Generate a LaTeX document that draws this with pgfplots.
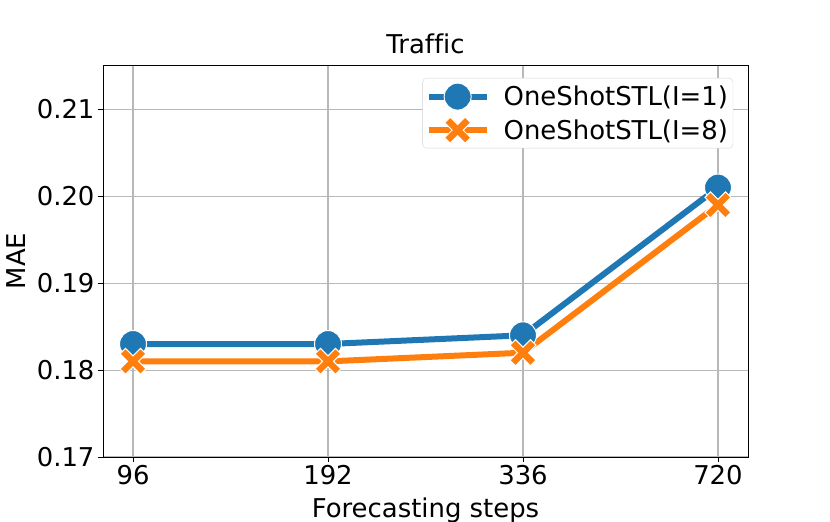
\documentclass[border=0pt]{standalone}
\usepackage{fontspec}
\setmainfont{DejaVu Sans}[Ligatures=NoCommon]
\usepackage{pgfplots}
\pgfplotsset{compat=1.18}
\definecolor{tblue}{HTML}{1F77B4}
\definecolor{torange}{HTML}{FF7F0E}
\definecolor{gridc}{HTML}{B8B8B8}
\newcommand{\bigf}{\fontsize{26}{31}\selectfont}
% filled "X" marker with thick arms
\pgfdeclareplotmark{fatx}{%
  \pgftransformrotate{45}%
  \pgfpathmoveto{\pgfpoint{0.27\pgfplotmarksize}{\pgfplotmarksize}}%
  \pgfpathlineto{\pgfpoint{0.27\pgfplotmarksize}{0.27\pgfplotmarksize}}%
  \pgfpathlineto{\pgfpoint{\pgfplotmarksize}{0.27\pgfplotmarksize}}%
  \pgfpathlineto{\pgfpoint{\pgfplotmarksize}{-0.27\pgfplotmarksize}}%
  \pgfpathlineto{\pgfpoint{0.27\pgfplotmarksize}{-0.27\pgfplotmarksize}}%
  \pgfpathlineto{\pgfpoint{0.27\pgfplotmarksize}{-\pgfplotmarksize}}%
  \pgfpathlineto{\pgfpoint{-0.27\pgfplotmarksize}{-\pgfplotmarksize}}%
  \pgfpathlineto{\pgfpoint{-0.27\pgfplotmarksize}{-0.27\pgfplotmarksize}}%
  \pgfpathlineto{\pgfpoint{-\pgfplotmarksize}{-0.27\pgfplotmarksize}}%
  \pgfpathlineto{\pgfpoint{-\pgfplotmarksize}{0.27\pgfplotmarksize}}%
  \pgfpathlineto{\pgfpoint{-0.27\pgfplotmarksize}{0.27\pgfplotmarksize}}%
  \pgfpathlineto{\pgfpoint{-0.27\pgfplotmarksize}{\pgfplotmarksize}}%
  \pgfpathclose
  \pgfusepathqfillstroke}
\begin{document}
\begin{tikzpicture}
\useasboundingbox (-103bp,-65bp) rectangle (727bp,457bp);
\begin{axis}[
  at={(0,0)}, anchor=south west,
  scale only axis, width=645bp, height=392bp,
  /pgf/number format/assume math mode=true,
  tick label style={font=\bigf},
  label style={font=\bigf},
  title style={font=\bigf},
  xmin=-0.154, xmax=3.154,
  ymin=0.17, ymax=0.2151,
  xtick={0,1,2,3}, xticklabels={96,192,336,720},
  ytick={0.17,0.18,0.19,0.20,0.21},
  yticklabel style={/pgf/number format/.cd,fixed,fixed zerofill,precision=2},
  scaled y ticks=false,
  tick align=outside, tick pos=left,
  major tick length=5bp,
  major tick style={black,line width=0.8bp},
  axis line style={black,line width=0.8bp},
  grid=major, grid style={gridc,line width=1.1bp},
  title={Traffic},
  title style={at={(axis description cs:0.5,1)},anchor=base,yshift=6bp},
  xlabel={Forecasting steps}, ylabel={MAE},
  xlabel style={at={(axis description cs:0.5,0)},anchor=base,yshift=-60bp},
  ylabel style={at={(axis description cs:-0.1349,0.5)},anchor=center},
  legend style={at={(0.977,0.967)},anchor=north east,font=\bigf,
    draw=gridc!60,rounded corners=4bp,fill=white,
    inner xsep=3bp,inner ysep=5bp,row sep=7bp,
    /tikz/every odd column/.append style={column sep=12bp}},
  legend cell align=left,
  legend image code/.code={%
    \draw[#1,mark repeat=2,mark phase=2] plot coordinates {(0bp,0bp) (29bp,0bp) (58bp,0bp)};},
]
\addplot[tblue, line width=6bp, mark=*, mark size=13.5bp,
  mark options={fill=tblue,draw=white,line width=1bp}]
  coordinates {(0,0.183) (1,0.183) (2,0.184) (3,0.201)};
\addplot[torange, line width=6bp, mark=fatx, mark size=14.5bp,
  mark options={fill=torange,draw=white,line width=1bp}]
  coordinates {(0,0.181) (1,0.181) (2,0.182) (3,0.199)};
\legend{OneShotSTL(I=1),OneShotSTL(I=8)}
\end{axis}
\end{tikzpicture}
\end{document}
